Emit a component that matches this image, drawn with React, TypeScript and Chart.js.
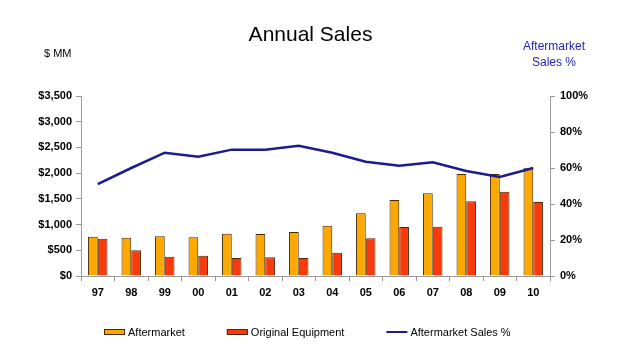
import React, { useEffect, useRef } from "react";
import { Chart, registerables } from "chart.js";

Chart.register(...registerables);

const years = ["97", "98", "99", "00", "01", "02", "03", "04", "05", "06", "07", "08", "09", "10"];
const aftermarket = [765, 745, 771, 752, 823, 817, 856, 979, 1219, 1478, 1607, 1983, 1983, 2106];
const originalEquipment = [726, 499, 376, 395, 350, 363, 350, 454, 732, 953, 959, 1452, 1640, 1439];
const aftermarketPct = [51, 60, 68.5, 66.3, 70.2, 70.2, 72.3, 68.5, 63.5, 61.2, 63.2, 58.3, 55, 60];

const FONT = "'Liberation Sans', Arial, sans-serif";
const ORANGE = "#FBA800";
const RED = "#F93A0C";
const NAVY = "#1C1C8E";
const EDGE = "#4a2a05";

const overlay = {
  id: "overlay",
  afterDraw(chart: any) {
    const ctx = chart.ctx;
    const area = chart.chartArea;
    ctx.save();
    ctx.textBaseline = "middle";
    // Title
    ctx.fillStyle = "#000";
    ctx.textAlign = "center";
    ctx.font = `21px ${FONT}`;
    ctx.fillText("Annual Sales", (area.left + area.right) / 2 - 5, 35);
    // Left axis title
    ctx.font = `11px ${FONT}`;
    ctx.textAlign = "left";
    ctx.fillText("$ MM", 44, 54);
    // Right axis title
    ctx.fillStyle = "#2424B8";
    ctx.textAlign = "center";
    ctx.font = `12px ${FONT}`;
    ctx.fillText("Aftermarket", 554, 47);
    ctx.fillText("Sales %", 554, 63);
    // Legend
    const ly = 332;
    ctx.font = `11px ${FONT}`;
    ctx.textAlign = "left";
    ctx.fillStyle = "#000";
    const items = [
      { label: "Aftermarket", kind: "box", color: ORANGE },
      { label: "Original Equipment", kind: "box", color: RED },
      { label: "Aftermarket Sales %", kind: "line", color: NAVY },
    ];
    let x = 104;
    items.forEach((it) => {
      if (it.kind === "box") {
        ctx.fillStyle = it.color;
        ctx.fillRect(x, ly - 3, 21, 6);
        ctx.strokeStyle = EDGE;
        ctx.lineWidth = 1;
        ctx.strokeRect(x + 0.5, ly - 2.5, 20, 5);
      } else {
        ctx.strokeStyle = it.color;
        ctx.lineWidth = 2;
        ctx.beginPath();
        ctx.moveTo(x, ly);
        ctx.lineTo(x + 21, ly);
        ctx.stroke();
      }
      ctx.fillStyle = "#000";
      ctx.fillText(it.label, x + 24, ly + 1);
      x += 24 + ctx.measureText(it.label).width + 42;
    });
    ctx.restore();
  },
};

export default function App() {
  const ref = useRef<HTMLCanvasElement | null>(null);
  useEffect(() => {
    document.body.style.margin = "0";
    const chart = new Chart(ref.current as HTMLCanvasElement, {
      type: "bar",
      data: {
        labels: years,
        datasets: [
          {
            type: "line",
            label: "Aftermarket Sales %",
            data: aftermarketPct,
            yAxisID: "y1",
            borderColor: NAVY,
            backgroundColor: NAVY,
            borderWidth: 2.5,
            pointRadius: 0,
            tension: 0,
            order: 0,
          } as any,
          {
            label: "Aftermarket",
            data: aftermarket,
            yAxisID: "y",
            backgroundColor: ORANGE,
            borderColor: EDGE,
            borderWidth: 1,
            categoryPercentage: 0.58,
            barPercentage: 1,
            order: 1,
          },
          {
            label: "Original Equipment",
            data: originalEquipment,
            yAxisID: "y",
            backgroundColor: RED,
            borderColor: EDGE,
            borderWidth: 1,
            categoryPercentage: 0.58,
            barPercentage: 1,
            order: 1,
          },
        ],
      },
      options: {
        animation: false,
        responsive: false,
        maintainAspectRatio: false,
        layout: { padding: { top: 96, left: 0, right: 0, bottom: 0 } },
        plugins: {
          legend: { display: false },
          tooltip: { enabled: false },
          title: { display: false },
        },
        scales: {
          x: {
            offset: true,
            grid: { offset: true, drawOnChartArea: false, tickLength: 5, color: "#9a9a9a" },
            border: { color: "#9a9a9a" },
            ticks: { color: "#000", font: { family: FONT, size: 11, weight: "bold" }, padding: 5, maxRotation: 0 },
            afterFit: (s: any) => { s.height = 81; },
          },
          y: {
            position: "left",
            min: 0,
            max: 3500,
            ticks: {
              stepSize: 500,
              color: "#000",
              font: { family: FONT, size: 11, weight: "bold" },
              padding: 4,
              callback: (v: any) => "$" + Number(v).toLocaleString("en-US"),
            },
            grid: { drawOnChartArea: false, tickLength: 5, color: "#9a9a9a" },
            border: { color: "#9a9a9a" },
            afterFit: (s: any) => { s.width = 81; },
          },
          y1: {
            position: "right",
            min: 0,
            max: 100,
            ticks: {
              stepSize: 20,
              color: "#000",
              font: { family: FONT, size: 11, weight: "bold" },
              padding: 5,
              callback: (v: any) => v + "%",
            },
            grid: { drawOnChartArea: false, tickLength: 5, color: "#9a9a9a" },
            border: { color: "#9a9a9a" },
            afterFit: (s: any) => { s.width = 70; },
          },
        },
      },
      plugins: [overlay],
    });
    return () => chart.destroy();
  }, []);
  return (
    <div style={{ position: "absolute", left: 0, top: 0, width: 620, height: 357, background: "#fff" }}>
      <canvas ref={ref} width={620} height={357} />
    </div>
  );
}
